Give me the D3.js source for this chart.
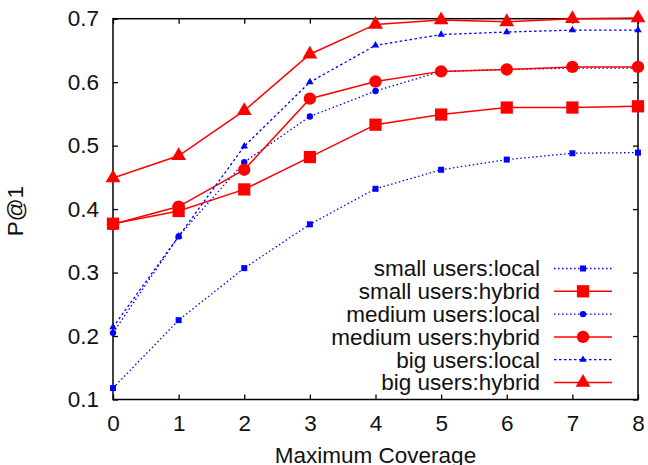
<!DOCTYPE html>
<html>
<head>
<meta charset="utf-8">
<script src="https://cdn.jsdelivr.net/npm/d3@7"></script>
<style>
  body { margin: 0; background: #fff; }
  svg { display: block; font-family: "Liberation Sans", Arial, sans-serif; }
</style>
</head>
<body>
<div id="chart"></div>
<script>
const coverage = [0, 1, 2, 3, 4, 5, 6, 7, 8];
const seriesNames = ["small users:local", "small users:hybrid", "medium users:local",
  "medium users:hybrid", "big users:local", "big users:hybrid"];
const smallLocal   = [0.118, 0.225, 0.307, 0.376, 0.432, 0.462, 0.478, 0.488, 0.489];
const smallHybrid  = [0.377, 0.397, 0.431, 0.482, 0.533, 0.549, 0.560, 0.560, 0.562];
const mediumLocal  = [0.205, 0.357, 0.474, 0.546, 0.586, 0.617, 0.620, 0.622, 0.622];
const mediumHybrid = [0.376, 0.404, 0.462, 0.574, 0.601, 0.617, 0.620, 0.624, 0.624];
const bigLocal     = [0.214, 0.357, 0.499, 0.600, 0.658, 0.675, 0.679, 0.682, 0.682];
const bigHybrid    = [0.449, 0.484, 0.555, 0.644, 0.691, 0.698, 0.695, 0.700, 0.701];
const yTicks = [0.1, 0.2, 0.3, 0.4, 0.5, 0.6, 0.7];

const width = 648, height = 465;
const margin = { top: 18.7, right: 10, bottom: 65.5, left: 113 };
const fontSize = 22.5;

const svg = d3.select("#chart").append("svg")
  .attr("width", width)
  .attr("height", height);

const x = d3.scaleLinear().domain([0, 8]).range([margin.left, width - margin.right]);
const y = d3.scaleLinear().domain([0.1, 0.7]).range([height - margin.bottom, margin.top]);

const styles = [
  { data: smallLocal,   color: "#0000ff", dash: "1.5,2.5", w: 1.3, shape: d3.symbolSquare,   size: 36 },
  { data: smallHybrid,  color: "#ff0000", dash: null,      w: 1.5, shape: d3.symbolSquare,   size: 150 },
  { data: mediumLocal,  color: "#0000ff", dash: "1.5,2.5", w: 1.3, shape: d3.symbolCircle,   size: 32 },
  { data: mediumHybrid, color: "#ff0000", dash: null,      w: 1.5, shape: d3.symbolCircle,   size: 120 },
  { data: bigLocal,     color: "#0000ff", dash: "2.5,2.5", w: 1.3, shape: d3.symbolTriangle, size: 24 },
  { data: bigHybrid,    color: "#ff0000", dash: null,      w: 1.5, shape: d3.symbolTriangle, size: 95 }
];

// axes: ticks drawn inward, mirrored on top/right
const tickLen = 5;
svg.append("g")
  .attr("transform", `translate(0,${y(0.1)})`)
  .call(d3.axisBottom(x).tickValues(coverage).tickSize(-tickLen).tickPadding(16).tickFormat(d3.format("d")))
  .call(g => g.select(".domain").remove());
svg.append("g")
  .attr("transform", `translate(0,${y(0.7)})`)
  .call(d3.axisTop(x).tickValues(coverage).tickSize(-tickLen).tickFormat(""))
  .call(g => g.select(".domain").remove());
svg.append("g")
  .attr("transform", `translate(${x(0)},0)`)
  .call(d3.axisLeft(y).tickValues(yTicks).tickSize(-tickLen).tickPadding(14).tickFormat(d3.format(".1f")))
  .call(g => g.select(".domain").remove());
svg.append("g")
  .attr("transform", `translate(${x(8)},0)`)
  .call(d3.axisRight(y).tickValues(yTicks).tickSize(-tickLen).tickFormat(""))
  .call(g => g.select(".domain").remove());

svg.selectAll(".tick line").attr("stroke", "#000").attr("stroke-width", 1.3);
svg.selectAll(".tick text").attr("font-size", fontSize).attr("fill", "#111")
  .attr("font-family", "'Liberation Sans', Arial, sans-serif");

// frame
svg.append("rect")
  .attr("x", x(0)).attr("y", y(0.7))
  .attr("width", x(8) - x(0)).attr("height", y(0.1) - y(0.7))
  .attr("fill", "none").attr("stroke", "#000").attr("stroke-width", 1.5);

const line = d3.line().x((d, i) => x(coverage[i])).y(d => y(d));

styles.forEach(s => {
  svg.append("path")
    .datum(s.data)
    .attr("d", line)
    .attr("fill", "none")
    .attr("stroke", s.color)
    .attr("stroke-width", s.w)
    .attr("stroke-dasharray", s.dash);
  svg.selectAll(null)
    .data(s.data)
    .enter()
    .append("path")
    .attr("transform", (d, i) => `translate(${x(coverage[i])},${y(d)})`)
    .attr("d", d3.symbol().type(s.shape).size(s.size))
    .attr("fill", s.color);
});

// legend
const legend = svg.append("g").attr("transform", "translate(540,268.5)");
seriesNames.forEach((name, i) => {
  const s = styles[i];
  const row = legend.append("g").attr("transform", `translate(0,${i * 22.8})`);
  row.append("text")
    .attr("x", 0).attr("y", 0).attr("dy", "0.35em")
    .attr("text-anchor", "end")
    .attr("font-size", fontSize).attr("fill", "#111")
    .text(name);
  row.append("line")
    .attr("x1", 14).attr("x2", 72)
    .attr("stroke", s.color).attr("stroke-width", s.w)
    .attr("stroke-dasharray", s.dash);
  row.append("path")
    .attr("transform", "translate(43,0)")
    .attr("d", d3.symbol().type(s.shape).size(s.size))
    .attr("fill", s.color);
});

// axis titles
svg.append("text")
  .attr("x", x(4)).attr("y", 463)
  .attr("text-anchor", "middle")
  .attr("font-size", fontSize).attr("fill", "#111")
  .text("Maximum Coverage");
svg.append("text")
  .attr("transform", `translate(23,${y(0.4) + 2}) rotate(-90)`)
  .attr("text-anchor", "middle")
  .attr("font-size", fontSize).attr("fill", "#111")
  .text("P@1");
</script>
</body>
</html>
